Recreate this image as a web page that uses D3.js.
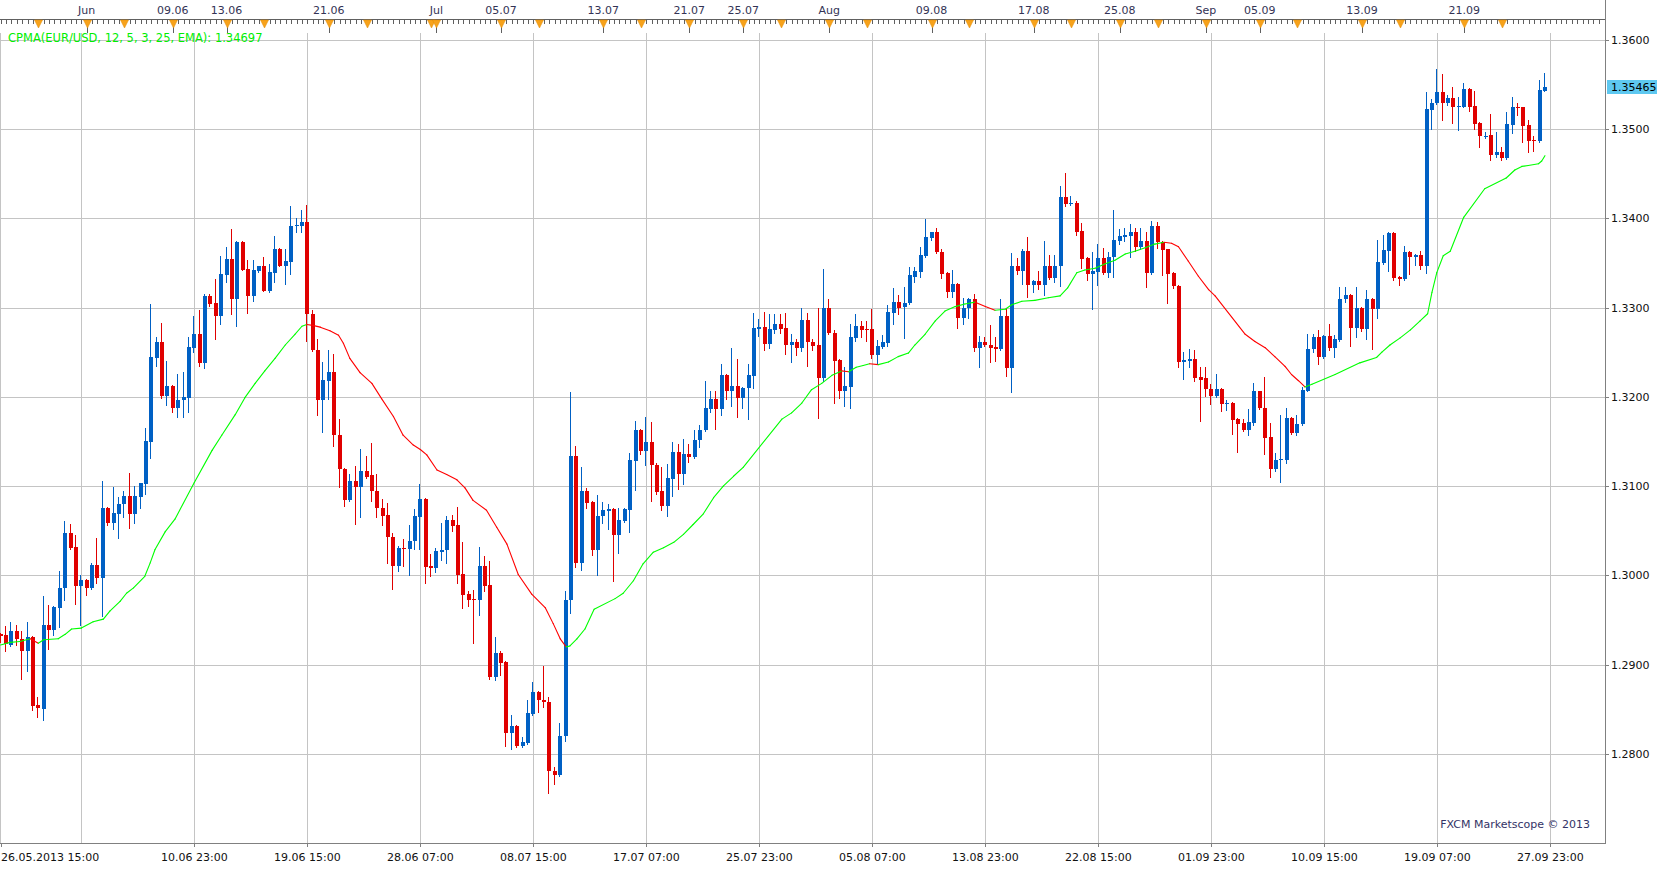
<!DOCTYPE html>
<html><head><meta charset="utf-8">
<script src="https://cdn.jsdelivr.net/npm/d3@7"></script>
<style>body{margin:0;background:#fff;overflow:hidden}svg{display:block;font-family:"DejaVu Sans",Verdana,sans-serif}</style>
</head><body><svg id="chart" width="1663" height="870"></svg>
<script>
// ---- data (8-hour EUR/USD candles, first candle 26.05.2013 15:00) ----
const opens=[1.2934,1.2933,1.2922,1.2938,1.2929,1.2915,1.2931,1.2855,1.2850,1.2945,1.2939,1.2964,1.2986,1.3048,1.3032,1.2988,1.2995,1.2986,1.3012,1.2997,
1.3076,1.3059,1.3069,1.3080,1.3089,1.3069,1.3088,1.3102,1.3149,1.3244,1.3261,1.3201,1.3212,1.3187,1.3196,1.3199,1.3255,1.3270,1.3238,1.3313,
1.3305,1.3290,1.3336,1.3354,1.3310,1.3373,1.3343,1.3313,1.3341,1.3346,1.3318,1.3339,1.3366,1.3347,1.3351,1.3391,1.3391,1.3396,1.3293,1.3252,
1.3196,1.3218,1.3228,1.3157,1.3119,1.3084,1.3106,1.3099,1.3117,1.3112,1.3095,1.3076,1.3068,1.3043,1.3010,1.3031,1.3030,1.3038,1.3065,1.3086,
1.3010,1.3008,1.3026,1.3028,1.3062,1.3056,1.3002,1.2979,1.2974,1.2973,1.3010,1.2989,1.2886,1.2913,1.2903,1.2824,1.2831,1.2809,1.2812,1.2845,
1.2869,1.2861,1.2858,1.2781,1.2777,1.2820,1.2972,1.3134,1.3014,1.3095,1.3082,1.3028,1.3066,1.3072,1.3074,1.3045,1.3061,1.3073,1.3128,1.3163,
1.3139,1.3149,1.3124,1.3094,1.3078,1.3108,1.3138,1.3114,1.3136,1.3133,1.3152,1.3163,1.3186,1.3198,1.3186,1.3224,1.3207,1.3212,1.3199,1.3210,
1.3223,1.3276,1.3278,1.3259,1.3275,1.3281,1.3277,1.3258,1.3261,1.3255,1.3286,1.3261,1.3258,1.3221,1.3300,1.3272,1.3241,1.3207,1.3211,1.3266,
1.3279,1.3276,1.3276,1.3247,1.3256,1.3260,1.3294,1.3306,1.3301,1.3305,1.3334,1.3340,1.3358,1.3378,1.3384,1.3362,1.3339,1.3317,1.3326,1.3288,
1.3299,1.3309,1.3255,1.3261,1.3258,1.3256,1.3253,1.3290,1.3232,1.3346,1.3341,1.3363,1.3325,1.3330,1.3325,1.3346,1.3333,1.3346,1.3424,1.3416,
1.3417,1.3386,1.3355,1.3338,1.3340,1.3355,1.3339,1.3356,1.3375,1.3379,1.3380,1.3385,1.3368,1.3374,1.3339,1.3391,1.3373,1.3365,1.3339,1.3324,
1.3239,1.3240,1.3242,1.3222,1.3221,1.3209,1.3201,1.3209,1.3192,1.3193,1.3175,1.3171,1.3163,1.3171,1.3206,1.3188,1.3155,1.3119,1.3129,1.3129,
1.3176,1.3159,1.3169,1.3207,1.3254,1.3267,1.3245,1.3268,1.3255,1.3264,1.3309,1.3314,1.3277,1.3300,1.3276,1.3310,1.3298,1.3350,1.3363,1.3383,
1.3334,1.3332,1.3362,1.3357,1.3359,1.3346,1.3521,1.3529,1.3541,1.3529,1.3535,1.3525,1.3525,1.3545,1.3526,1.3507,1.3491,1.3493,1.3471,1.3474,
1.3467,1.3504,1.3525,1.3524,1.3504,1.3488,1.3486,1.3543];
const highs=[1.2936,1.2943,1.2948,1.2944,1.2938,1.2948,1.2932,1.2864,1.2977,1.2967,1.2966,1.3005,1.3061,1.3058,1.3045,1.3001,1.2996,1.3014,1.3042,1.3106,
1.3077,1.3099,1.3088,1.3095,1.3115,1.3100,1.3104,1.3165,1.3304,1.3267,1.3283,1.3240,1.3213,1.3226,1.3228,1.3267,1.3291,1.3297,1.3315,1.3315,
1.3332,1.3358,1.3368,1.3388,1.3374,1.3374,1.3353,1.3353,1.3347,1.3356,1.3349,1.3380,1.3367,1.3366,1.3414,1.3400,1.3409,1.3415,1.3297,1.3265,
1.3239,1.3252,1.3248,1.3175,1.3120,1.3113,1.3123,1.3142,1.3134,1.3148,1.3113,1.3086,1.3081,1.3048,1.3033,1.3041,1.3056,1.3074,1.3102,1.3087,
1.3024,1.3031,1.3059,1.3066,1.3068,1.3077,1.3037,1.2983,1.2984,1.3032,1.3022,1.3016,1.2931,1.2915,1.2904,1.2844,1.2832,1.2819,1.2860,1.2881,
1.2871,1.2898,1.2864,1.2786,1.2835,1.2982,1.3205,1.3145,1.3121,1.3098,1.3083,1.3090,1.3082,1.3080,1.3075,1.3076,1.3076,1.3137,1.3173,1.3164,
1.3177,1.3172,1.3126,1.3121,1.3125,1.3149,1.3147,1.3153,1.3147,1.3163,1.3168,1.3218,1.3206,1.3206,1.3237,1.3225,1.3255,1.3242,1.3211,1.3237,
1.3294,1.3287,1.3295,1.3293,1.3293,1.3293,1.3294,1.3270,1.3265,1.3300,1.3294,1.3265,1.3299,1.3343,1.3309,1.3275,1.3242,1.3233,1.3282,1.3293,
1.3285,1.3285,1.3298,1.3264,1.3269,1.3303,1.3322,1.3314,1.3323,1.3345,1.3345,1.3368,1.3399,1.3385,1.3389,1.3365,1.3340,1.3342,1.3327,1.3311,
1.3311,1.3315,1.3268,1.3267,1.3280,1.3267,1.3309,1.3300,1.3361,1.3355,1.3366,1.3379,1.3331,1.3341,1.3374,1.3359,1.3359,1.3436,1.3451,1.3425,
1.3419,1.3395,1.3357,1.3362,1.3371,1.3367,1.3362,1.3409,1.3388,1.3389,1.3393,1.3389,1.3389,1.3385,1.3397,1.3396,1.3374,1.3366,1.3340,1.3325,
1.3250,1.3253,1.3252,1.3233,1.3233,1.3214,1.3226,1.3210,1.3196,1.3194,1.3176,1.3175,1.3186,1.3216,1.3207,1.3222,1.3171,1.3137,1.3180,1.3188,
1.3177,1.3180,1.3211,1.3270,1.3270,1.3275,1.3269,1.3281,1.3269,1.3323,1.3323,1.3315,1.3323,1.3301,1.3320,1.3311,1.3376,1.3381,1.3384,1.3384,
1.3335,1.3369,1.3363,1.3360,1.3363,1.3541,1.3533,1.3567,1.3562,1.3538,1.3547,1.3536,1.3551,1.3546,1.3543,1.3508,1.3497,1.3517,1.3496,1.3480,
1.3519,1.3536,1.3529,1.3525,1.3510,1.3492,1.3555,1.3563];
const lows=[1.2925,1.2915,1.2921,1.2922,1.2884,1.2893,1.2849,1.2841,1.2838,1.2918,1.2933,1.2942,1.2972,1.3030,1.2968,1.2944,1.2978,1.2985,1.2991,1.2955,
1.3056,1.3052,1.3042,1.3065,1.3053,1.3059,1.3075,1.3091,1.3132,1.3235,1.3199,1.3191,1.3183,1.3177,1.3177,1.3183,1.3250,1.3235,1.3232,1.3302,
1.3265,1.3282,1.3329,1.3293,1.3279,1.3342,1.3294,1.3307,1.3340,1.3318,1.3317,1.3328,1.3346,1.3326,1.3338,1.3384,1.3384,1.3262,1.3251,1.3180,
1.3161,1.3198,1.3145,1.3099,1.3078,1.3083,1.3058,1.3065,1.3109,1.3083,1.3065,1.3056,1.3014,1.2985,1.3005,1.3011,1.3000,1.3030,1.3030,1.2991,
1.2999,1.3004,1.3017,1.3014,1.3050,1.2991,1.2963,1.2966,1.2924,1.2956,1.2983,1.2884,1.2883,1.2889,1.2809,1.2806,1.2808,1.2808,1.2811,1.2844,
1.2847,1.2853,1.2756,1.2766,1.2775,1.2814,1.2958,1.3009,1.3006,1.3076,1.3023,1.3000,1.3059,1.3052,1.2994,1.3025,1.3060,1.3049,1.3096,1.3136,
1.3124,1.3083,1.3091,1.3073,1.3067,1.3089,1.3097,1.3102,1.3127,1.3132,1.3144,1.3162,1.3183,1.3164,1.3180,1.3198,1.3190,1.3177,1.3188,1.3175,
1.3210,1.3268,1.3252,1.3255,1.3271,1.3271,1.3248,1.3239,1.3247,1.3251,1.3234,1.3252,1.3176,1.3218,1.3270,1.3193,1.3199,1.3190,1.3187,1.3262,
1.3267,1.3263,1.3243,1.3237,1.3255,1.3257,1.3281,1.3293,1.3266,1.3304,1.3328,1.3334,1.3356,1.3376,1.3361,1.3333,1.3312,1.3312,1.3277,1.3282,
1.3288,1.3251,1.3233,1.3257,1.3239,1.3240,1.3252,1.3223,1.3205,1.3338,1.3326,1.3312,1.3317,1.3321,1.3314,1.3332,1.3328,1.3324,1.3414,1.3415,
1.3381,1.3344,1.3331,1.3298,1.3325,1.3338,1.3334,1.3334,1.3371,1.3375,1.3356,1.3363,1.3365,1.3323,1.3338,1.3367,1.3336,1.3305,1.3322,1.3233,
1.3220,1.3233,1.3218,1.3173,1.3201,1.3192,1.3200,1.3184,1.3185,1.3158,1.3138,1.3162,1.3157,1.3168,1.3186,1.3136,1.3110,1.3117,1.3105,1.3126,
1.3158,1.3157,1.3168,1.3206,1.3250,1.3237,1.3244,1.3252,1.3245,1.3263,1.3306,1.3257,1.3267,1.3274,1.3265,1.3254,1.3288,1.3349,1.3341,1.3331,
1.3325,1.3331,1.3338,1.3348,1.3343,1.3339,1.3500,1.3528,1.3510,1.3527,1.3507,1.3499,1.3524,1.3520,1.3500,1.3480,1.3490,1.3465,1.3469,1.3465,
1.3466,1.3495,1.3516,1.3485,1.3474,1.3475,1.3485,1.3542];
const closes=[1.2932,1.2923,1.2938,1.2929,1.2915,1.2931,1.2854,1.2851,1.2945,1.2939,1.2965,1.2986,1.3048,1.3031,1.2988,1.2995,1.2986,1.3012,1.2997,1.3076,
1.3059,1.3070,1.3080,1.3089,1.3069,1.3089,1.3103,1.3150,1.3245,1.3261,1.3201,1.3212,1.3187,1.3196,1.3200,1.3256,1.3270,1.3238,1.3313,1.3304,
1.3290,1.3337,1.3354,1.3310,1.3373,1.3342,1.3313,1.3342,1.3346,1.3319,1.3340,1.3366,1.3347,1.3352,1.3391,1.3392,1.3396,1.3293,1.3252,1.3196,
1.3219,1.3228,1.3157,1.3119,1.3084,1.3106,1.3099,1.3117,1.3110,1.3094,1.3075,1.3067,1.3043,1.3010,1.3031,1.3030,1.3039,1.3066,1.3086,1.3009,
1.3008,1.3027,1.3029,1.3062,1.3055,1.3001,1.2978,1.2973,1.2972,1.3010,1.2988,1.2886,1.2913,1.2902,1.2824,1.2831,1.2809,1.2813,1.2846,1.2869,
1.2860,1.2858,1.2781,1.2777,1.2820,1.2972,1.3134,1.3014,1.3095,1.3081,1.3028,1.3066,1.3073,1.3074,1.3045,1.3062,1.3074,1.3129,1.3163,1.3139,
1.3149,1.3124,1.3093,1.3078,1.3109,1.3138,1.3114,1.3136,1.3133,1.3152,1.3163,1.3187,1.3198,1.3186,1.3224,1.3207,1.3212,1.3199,1.3210,1.3224,
1.3277,1.3278,1.3259,1.3276,1.3281,1.3276,1.3258,1.3261,1.3255,1.3286,1.3261,1.3257,1.3221,1.3300,1.3272,1.3240,1.3207,1.3212,1.3267,1.3279,
1.3275,1.3275,1.3247,1.3257,1.3261,1.3295,1.3306,1.3300,1.3305,1.3336,1.3341,1.3359,1.3379,1.3384,1.3362,1.3338,1.3317,1.3326,1.3288,1.3300,
1.3309,1.3255,1.3261,1.3258,1.3255,1.3253,1.3290,1.3232,1.3346,1.3341,1.3363,1.3325,1.3330,1.3325,1.3346,1.3333,1.3347,1.3424,1.3416,1.3417,
1.3385,1.3354,1.3338,1.3341,1.3355,1.3339,1.3357,1.3376,1.3380,1.3381,1.3385,1.3368,1.3374,1.3339,1.3391,1.3373,1.3364,1.3338,1.3324,1.3239,
1.3241,1.3242,1.3221,1.3219,1.3209,1.3201,1.3209,1.3192,1.3193,1.3174,1.3170,1.3163,1.3172,1.3206,1.3187,1.3154,1.3119,1.3129,1.3130,1.3176,
1.3159,1.3170,1.3208,1.3254,1.3267,1.3245,1.3268,1.3255,1.3265,1.3310,1.3314,1.3277,1.3299,1.3276,1.3310,1.3298,1.3351,1.3364,1.3383,1.3333,
1.3332,1.3362,1.3357,1.3359,1.3347,1.3522,1.3529,1.3541,1.3529,1.3535,1.3525,1.3526,1.3545,1.3525,1.3506,1.3492,1.3492,1.3471,1.3474,1.3467,
1.3505,1.3525,1.3523,1.3503,1.3487,1.3486,1.3544,1.35465];
// CPMA indicator line: candle position and value
const cpmaIdx=[0,1.75,3.6,5.5,7,8,10.7,12,13.2,15,17.2,19.1,20.3,22.2,23.4,24.7,26.8,27.8,28.7,30.6,32.4,36,39.3,41.1,43.6,45.4,47.3,49.1,51,52.9,54.7,56,56.9,58,59.4,61.2,62.8,63.7,64.9,66.8,69,70.8,73,74.8,76.7,78,79.2,81.1,82.9,84.8,86.3,87.8,90.3,92.2,94.1,96.2,98.7,101.2,102.7,104,105.1,105.8,107.1,108.6,110.3,114.2,115.7,117.6,119.4,121.3,123.2,125.1,126.9,128.7,130.6,132.5,134.3,136.2,138,145.2,147,148.9,150.7,152.6,154.5,156.3,157.6,159,160.3,161.5,163.1,165,166.8,168.7,169.9,171.8,173.7,175.5,177.4,179.2,181.1,183,184.8,186.7,187.9,189.8,192.2,194.7,196.9,198.3,200,201.5,203.4,205.3,207.1,209,210.8,212.7,214.5,216.2,217.6,218.9,220.7,222.6,224.5,225.7,231.3,233.1,235,236.8,238.7,239.9,241.2,242.4,243.7,248,252.6,255.7,256.7,258.2,260.1,262,263.8,265.2,266,266.9,268.1,269.4,271.9,275.8,279.8,281.4,282.7,283.9,285.8,286.4,287];
const cpmaVal=[1.2922,1.2925,1.2926,1.2929,1.2924,1.2928,1.2929,1.2934,1.2940,1.2941,1.2948,1.2951,1.2960,1.2971,1.2980,1.2986,1.2999,1.3014,1.3029,1.3049,1.3063,1.3104,1.3140,1.3157,1.3180,1.3199,1.3215,1.3229,1.3243,1.3258,1.3270,1.3279,1.3281,1.3280,1.3278,1.3274,1.3269,1.3260,1.3243,1.3227,1.3215,1.3198,1.3178,1.3157,1.3146,1.3141,1.3135,1.3118,1.3113,1.3107,1.3098,1.3084,1.3073,1.3054,1.3035,1.3001,1.2979,1.2964,1.2946,1.2929,1.2920,1.2921,1.2929,1.2940,1.2962,1.2974,1.2980,1.2994,1.3013,1.3026,1.3031,1.3037,1.3046,1.3057,1.3069,1.3087,1.3100,1.3111,1.3121,1.3175,1.3182,1.3193,1.3208,1.3215,1.3224,1.3229,1.3228,1.3233,1.3235,1.3237,1.3236,1.3239,1.3245,1.3249,1.3258,1.3270,1.3285,1.3296,1.3301,1.3304,1.3306,1.3301,1.3297,1.3298,1.3303,1.3307,1.3308,1.3311,1.3313,1.3322,1.3339,1.3342,1.3344,1.3349,1.3353,1.3360,1.3363,1.3367,1.3371,1.3373,1.3372,1.3368,1.3352,1.3335,1.3320,1.3313,1.3270,1.3262,1.3255,1.3245,1.3234,1.3225,1.3218,1.3211,1.3214,1.3225,1.3238,1.3244,1.3250,1.3258,1.3266,1.3275,1.3285,1.3293,1.3317,1.3339,1.3358,1.3363,1.3401,1.3433,1.3445,1.3454,1.3458,1.3459,1.3461,1.3464,1.3470];
const priceTicks=[1.28,1.29,1.30,1.31,1.32,1.33,1.34,1.35,1.36];
const gridIdx=[15,36,57,78,99,120,141,162,183,204,225,246,267,288];
const bottomLabelIdx=[0,36,57,78,99,120,141,162,183,204,225,246,267,288];
const bottomLabels=["26.05.2013 15:00","10.06 23:00","19.06 15:00","28.06 07:00","08.07 15:00","17.07 07:00","25.07 23:00","05.08 07:00","13.08 23:00","22.08 15:00","01.09 23:00","10.09 15:00","19.09 07:00","27.09 23:00"];
const topLabelIdx=[16,32,42,61,81,93,112,128,138,154,173,192,208,224,234,253,272];
const topLabels=["Jun","09.06","13.06","21.06","Jul","05.07","13.07","21.07","25.07","Aug","09.08","17.08","25.08","Sep","05.09","13.09","21.09"];
const eventIdx=[7,16,23,32,42,49,61,68,80,81,93,100,112,119,128,138,145,154,161,173,180,192,199,208,215,224,234,241,253,260,272,279];
const legendText="CPMA(EUR/USD, 12, 5, 3, 25, EMA): 1.34697";
const lastPrice="1.35465";

// ---- drawing ----
const W=1663,H=870, plotR=1605, plotB=843, plotT=33;
const svg=d3.select("#chart");
const x=d3.scaleLinear().domain([0,287]).range([0.6,0.6+287*5.381]);
const y=d3.scaleLinear().domain([1.28,1.36]).range([754.0,39.6]);
const gridC="#c4c4c4";
const crisp=v=>Math.round(v)+0.5;

svg.append("g").selectAll("line").data(priceTicks).join("line")
  .attr("x1",0).attr("x2",plotR).attr("y1",d=>crisp(y(d))).attr("y2",d=>crisp(y(d)))
  .attr("stroke",gridC).attr("stroke-width",1);
svg.append("g").selectAll("line").data(gridIdx).join("line")
  .attr("x1",d=>crisp(x(d))).attr("x2",d=>crisp(x(d))).attr("y1",plotT).attr("y2",plotB)
  .attr("stroke",gridC).attr("stroke-width",1);
svg.append("line").attr("x1",0.5).attr("x2",0.5).attr("y1",plotT).attr("y2",plotB).attr("stroke",gridC);

const idx=d3.range(opens.length);
const up="#0060c4", dn="#e00000";
const cg=svg.append("g");
cg.selectAll("line").data(idx).join("line")
  .attr("x1",i=>Math.round(x(i))-0.5).attr("x2",i=>Math.round(x(i))-0.5)
  .attr("y1",i=>Math.round(y(highs[i]))).attr("y2",i=>Math.round(y(lows[i]))+1)
  .attr("stroke",i=>closes[i]>=opens[i]?up:dn).attr("stroke-width",1);
cg.selectAll("rect").data(idx).join("rect")
  .attr("x",i=>Math.round(x(i))-2).attr("width",4)
  .attr("y",i=>Math.round(y(Math.max(opens[i],closes[i]))))
  .attr("height",i=>Math.max(1,Math.round(y(Math.min(opens[i],closes[i])))-Math.round(y(Math.max(opens[i],closes[i])))))
  .attr("fill",i=>closes[i]>=opens[i]?up:dn).attr("shape-rendering","crispEdges");

const segs=d3.range(cpmaIdx.length-1);
svg.append("g").selectAll("line").data(segs).join("line")
  .attr("x1",k=>x(cpmaIdx[k])).attr("y1",k=>y(cpmaVal[k]))
  .attr("x2",k=>x(cpmaIdx[k+1])).attr("y2",k=>y(cpmaVal[k+1]))
  .attr("stroke",k=>cpmaVal[k+1]<cpmaVal[k]?"#ff0000":"#00ff00").attr("stroke-width",1.1)
  .attr("stroke-linecap","round");

svg.append("rect").attr("x",plotR).attr("y",0).attr("width",W-plotR).attr("height",H).attr("fill","#fff");
svg.append("line").attr("x1",plotR+0.5).attr("x2",plotR+0.5).attr("y1",0).attr("y2",plotB).attr("stroke","#808080");
const ra=svg.append("g");
ra.selectAll("text").data(priceTicks).join("text")
  .attr("x",plotR+6).attr("y",d=>y(d)+4).attr("font-size",11).attr("fill","#111")
  .text(d=>d3.format(".4f")(d));
ra.selectAll("line").data(priceTicks).join("line")
  .attr("x1",plotR).attr("x2",plotR+4).attr("y1",d=>crisp(y(d))).attr("y2",d=>crisp(y(d))).attr("stroke","#808080");
const lp=+lastPrice, ly=y(lp);
svg.append("rect").attr("x",plotR+2).attr("y",Math.round(ly)-7).attr("width",50).attr("height",14).attr("fill","#5ec8f0");
svg.append("text").attr("x",plotR+6).attr("y",Math.round(ly)+4).attr("font-size",11).attr("fill","#000").text(lastPrice);

svg.append("line").attr("x1",0).attr("x2",plotR+1).attr("y1",plotB+0.5).attr("y2",plotB+0.5).attr("stroke","#808080");
const ba=svg.append("g");
ba.selectAll("line").data(bottomLabelIdx).join("line")
  .attr("x1",d=>crisp(x(d))).attr("x2",d=>crisp(x(d))).attr("y1",plotB).attr("y2",plotB+4).attr("stroke","#808080");
ba.selectAll("text").data(bottomLabelIdx).join("text")
  .attr("x",(d,k)=>k===0?1:x(d)).attr("text-anchor",(d,k)=>k===0?"start":"middle")
  .attr("y",plotB+18).attr("font-size",11).attr("fill","#111").text((d,k)=>bottomLabels[k]);

const ta=svg.append("g");
ta.append("line").attr("x1",0).attr("x2",plotR).attr("y1",19.5).attr("y2",19.5).attr("stroke","#606060");
ta.selectAll("line.t").data(d3.range(0,298)).join("line").attr("class","t")
  .attr("x1",d=>crisp(x(d))).attr("x2",d=>crisp(x(d))).attr("y1",19.5).attr("y2",24).attr("stroke","#606060");
ta.selectAll("line.l").data(topLabelIdx).join("line").attr("class","l")
  .attr("x1",d=>crisp(x(d))).attr("x2",d=>crisp(x(d))).attr("y1",19.5).attr("y2",33).attr("stroke","#606060");
ta.selectAll("path").data(eventIdx).join("path")
  .attr("d",d=>{const cx=crisp(x(d));return `M${cx-4},20L${cx+4},20L${cx},28Z`;})
  .attr("fill","#f7a21b").attr("stroke","#e08a00").attr("stroke-width",0.5);
ta.selectAll("text").data(topLabelIdx).join("text")
  .attr("x",d=>x(d)).attr("y",14).attr("text-anchor","middle").attr("font-size",11).attr("fill","#333355")
  .text((d,k)=>topLabels[k]);

svg.append("text").attr("x",8).attr("y",42).attr("font-size",11.5).attr("fill","#00ee00").text(legendText);
svg.append("text").attr("x",1590).attr("y",828).attr("text-anchor","end").attr("font-size",11).attr("fill","#333366").text("FXCM Marketscope \u00a9 2013");
</script></body></html>
